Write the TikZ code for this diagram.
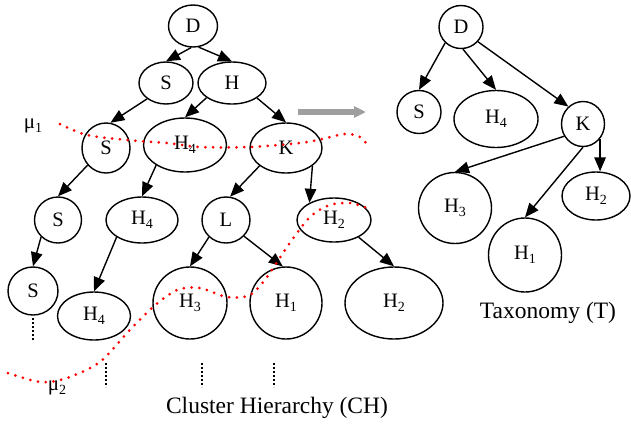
\documentclass[tikz,border=0pt]{standalone}
\usepackage{fontspec}
\setmainfont{Liberation Serif}
\usetikzlibrary{shapes.geometric,arrows.meta}
\newcommand{\sbs}[1]{\raisebox{-3.5pt}{\fontsize{14}{14}\selectfont #1}}
\tikzset{
  nd/.style={ellipse, draw, line width=1.4pt, inner sep=0pt, font=\fontsize{20.5}{20}\selectfont},
  sz/.style 2 args={minimum width=#1, minimum height=#2},
  conn/.style={line width=1.4pt, -{Triangle[length=14pt,width=11.5pt]}},
  reddots/.style={red, line width=3pt, line cap=round, dash pattern=on 0pt off 7.8pt},
  vdots/.style={line width=1.5pt, dash pattern=on 2pt off 2pt},
  lbl/.style={font=\fontsize{23.5}{24}\selectfont, inner sep=0pt},
  mu/.style={font=\fontsize{21}{21}\selectfont, inner sep=0pt}
}
\begin{document}
\begin{tikzpicture}[x=1pt,y=-1pt]
\useasboundingbox (0,0) rectangle (631,424);
% Cluster hierarchy
\node[nd,sz={49pt}{42pt}] (D) at (193,26) {D};
\node[nd,sz={54pt}{42pt}] (S1) at (166,83) {S};
\node[nd,sz={68pt}{42pt}] (H) at (232,83) {H};
\node[nd,sz={48pt}{50pt}] (S2) at (106,148) {S};
\node[nd,sz={83pt}{54pt}] (H4a) at (185,145) {H\sbs{4}};
\node[nd,sz={72pt}{50pt}] (K) at (286,148) {K};
\node[nd,sz={47pt}{46pt}] (S3) at (58,220) {S};
\node[nd,sz={72pt}{46pt}] (H4b) at (142,220) {H\sbs{4}};
\node[nd,sz={48pt}{46pt}] (L) at (226,220) {L};
\node[nd,sz={74pt}{44pt}] (H2a) at (334,220) {H\sbs{2}};
\node[nd,sz={50pt}{48pt}] (S4) at (33,291) {S};
\node[nd,sz={73pt}{48pt}] (H4c) at (94,316) {H\sbs{4}};
\node[nd,sz={74pt}{72pt}] (H3) at (190,303) {H\sbs{3}};
\node[nd,sz={72pt}{72pt}] (H1) at (286,303) {H\sbs{1}};
\node[nd,sz={98pt}{72pt}] (H2b) at (394,303) {H\sbs{2}};

\draw[conn] (D.265) -- (S1.north);
\draw[conn] (D.285) -- (H.north);
\draw[conn] (S1.220) -- (S2.80);
\draw[conn] (H.210) -- (H4a.north);
\draw[conn] (H.-31) -- (K.north);
\draw[conn] (S2.223) -- (S3.north);
\draw[conn] (H4a.215) -- (H4b.north);
\draw[conn] (K.214) -- (L.80);
\draw[conn] (K.-34) -- (H2a.145);
\draw[conn] (S3.225) -- (S4.north);
\draw[conn] (H4b.214) -- (H4c.north);
\draw[conn] (L.225) -- (H3.north);
\draw[conn] (L.-42) -- (H1.95);
\draw[conn] (H2a.-35) -- (H2b.north);

% vertical dots
\coordinate (v1a) at (33,318); \coordinate (v1b) at (33,340);
\coordinate (v2a) at (106,363); \coordinate (v2b) at (106,387);
\coordinate (v3a) at (202,363); \coordinate (v3b) at (202,387);
\coordinate (v4a) at (274,363); \coordinate (v4b) at (274,387);
\draw[vdots] (v1a) -- (v1b);
\draw[vdots] (v2a) -- (v2b);
\draw[vdots] (v3a) -- (v3b);
\draw[vdots] (v4a) -- (v4b);

% red cut lines
\draw[reddots] plot[smooth] coordinates {(60,124) (87,135) (127,140) (167,143) (200,147) (250,147) (300,143) (322,139) (345,134) (360,137) (370,148)};
\draw[reddots] plot[smooth] coordinates {(8,373) (40,382) (67,378) (100,362) (127,333) (153,307) (177,290) (200,288) (227,297) (250,295) (267,277) (287,247) (310,217) (330,205) (350,203) (367,208)};

\node[mu] (mu1) at (33,126) {μ\sbs{1}};
\node[mu] (mu2) at (57,388) {μ\sbs{2}};
\node[lbl] (chl) at (277,408) {Cluster Hierarchy (CH)};

% gray arrow
\coordinate (ga) at (298,112);
\coordinate (gb) at (366,112);
\draw[gray!75, line width=5.5pt, -{Triangle[length=12pt,width=11pt]}] (ga) -- (gb);

% Taxonomy
\node[nd,sz={44pt}{43pt}] (TD) at (461,27) {D};
\node[nd,sz={44pt}{43pt}] (TS) at (419,112) {S};
\node[nd,sz={84pt}{57pt}] (TH4) at (496,119) {H\sbs{4}};
\node[nd,sz={43pt}{45pt}] (TK) at (583,124) {K};
\node[nd,sz={73pt}{71pt}] (TH3) at (455,208) {H\sbs{3}};
\node[nd,sz={68pt}{48pt}] (TH2) at (596,196) {H\sbs{2}};
\node[nd,sz={73pt}{74pt}] (TH1) at (525,255) {H\sbs{1}};

\draw[conn] (TD.225) -- (TS.north);
\draw[conn] (TD.-85) -- (TH4.north);
\draw[conn] (TD.-41) -- (TK.130);
\draw[conn] (TK.213) -- (TH3.north);
\draw[conn] (TK.south) -- (TH1.north);
\draw[conn] (TK.-41) -- (TK.-41 |- TH2.north);

\node[lbl] (txl) at (548,313) {Taxonomy (T)};
\end{tikzpicture}
\end{document}
